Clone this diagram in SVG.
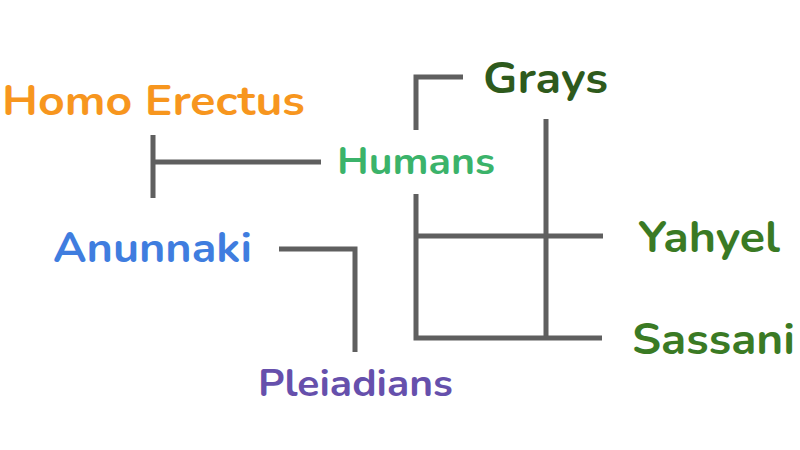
<svg xmlns="http://www.w3.org/2000/svg" width="800" height="450" viewBox="0 0 800 450">
<style>
text{font-family:"Nunito","Open Sans","Noto Sans",sans-serif;font-weight:700;}
.c{fill:none;stroke:#5f5f5f;stroke-width:5;stroke-linecap:butt;stroke-linejoin:miter;}
</style>
<rect width="800" height="450" fill="#ffffff"/>
<g id="connectors">
<path class="c" d="M153,135V198M153,162H321"/>
<path class="c" d="M279,249H355V352"/>
<path class="c" d="M463,77H416V130"/>
<path class="c" d="M546,119V338"/>
<path class="c" d="M416,194V338H602"/>
<path class="c" d="M416,236H603"/>
</g>
<g id="homo-erectus"><text x="2" y="115" font-size="42" fill="#f7961e" textLength="303" lengthAdjust="spacingAndGlyphs">Homo Erectus</text></g>
<g id="humans"><text x="337" y="174" font-size="38" fill="#3bb36a" textLength="158" lengthAdjust="spacingAndGlyphs">Humans</text></g>
<g id="anunnaki"><text x="53" y="262" font-size="41" fill="#3f7ddf" textLength="199" lengthAdjust="spacingAndGlyphs">Anunnaki</text></g>
<g id="pleiadians"><text x="258" y="396" font-size="38" fill="#6650ac" textLength="195" lengthAdjust="spacingAndGlyphs">Pleiadians</text></g>
<g id="grays"><text x="483" y="93" font-size="43" fill="#2e5a1c" textLength="125" lengthAdjust="spacingAndGlyphs">Grays</text></g>
<g id="yahyel"><text x="638" y="252" font-size="44" fill="#3a7a24" textLength="142" lengthAdjust="spacingAndGlyphs">Yahyel</text></g>
<g id="sassani"><text x="632" y="354" font-size="44" fill="#3a7a24" textLength="163" lengthAdjust="spacingAndGlyphs">Sassani</text></g>
</svg>
